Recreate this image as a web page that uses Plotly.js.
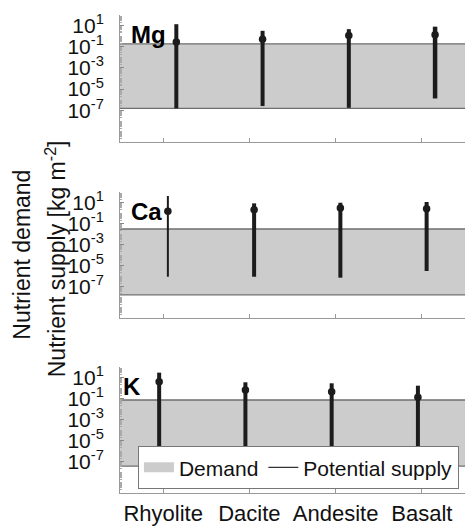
<!DOCTYPE html>
<html><head><meta charset="utf-8">
<script src="https://cdn.plot.ly/plotly-3.0.1.min.js"></script>
<style>html,body{margin:0;padding:0;background:#fff}#chart{width:465px;height:527px}</style>
</head><body><div id="chart"></div>
<script>
// ---- data ----
const categories = ['Rhyolite', 'Dacite', 'Andesite', 'Basalt'];
const elements = ['Mg', 'Ca', 'K'];
// demand band [kg m^-2]
const demandLow  = [1.5e-7, 1.6e-8, 3.7e-8];
const demandHigh = [0.19, 0.03, 0.072];
// potential supply: low / central / high per rock type
const supplyLowMg  = [1.5e-7, 2.5e-7, 1.7e-7, 1.3e-6];
const supplyMidMg  = [0.28, 0.52, 1.15, 1.35];
const supplyHighMg = [13.5, 3.2, 4.6, 7.9];
const supplyLowCa  = [8.5e-7, 8.5e-7, 6.9e-7, 3.0e-6];
const supplyMidCa  = [1.45, 2.0, 3.0, 2.6];
const supplyHighCa = [42, 8.3, 9.5, 11.2];
const supplyLowK   = [2.6e-6, 1e-8, 1e-8, 1e-8];
const supplyMidK   = [4.0, 0.65, 0.45, 0.13];
const supplyHighK  = [29, 3.5, 2.8, 1.66];
const yTickPowers = [1, -1, -3, -5, -7];

// ---- styling ----
const FONT = '"Liberation Sans", Arial, sans-serif';
const offsets = [0.153, 0.055, -0.046];
const widths = [[4, 4, 4, 4.5], [2, 4, 4, 4], [4, 4, 4, 4]];
const lows = [supplyLowMg, supplyLowCa, supplyLowK];
const mids = [supplyMidMg, supplyMidCa, supplyMidK];
const highs = [supplyHighMg, supplyHighCa, supplyHighK];
const domains = [[0.7343, 1], [0.3661, 0.6297], [0, 0.2636]];
const xr = [-0.5, categories.length - 0.5];

const traces = [];
const layout = {
  width: 465, height: 527,
  margin: {l: 120, r: 0, t: 15, b: 34},
  paper_bgcolor: '#fff', plot_bgcolor: '#fff',
  font: {family: FONT, size: 20, color: '#111'},
  showlegend: true,
  legend: {orientation: 'h', x: 0.052, xanchor: 'left', y: 0.098, yanchor: 'top',
           bgcolor: '#fff', bordercolor: '#777', borderwidth: 1, itemwidth: 30,
           font: {family: FONT, size: 21, color: '#111'}, traceorder: 'normal'},
  annotations: [],
};

// minor tick positions for log axis
const minorVals = [];
for (let p = -10; p <= 1; p++) for (let d = 2; d <= 9; d++) minorVals.push(d * Math.pow(10, p));

// legend-only entries
traces.push({type: 'scatter', mode: 'lines', x: [null], y: [null], name: 'Demand',
  line: {width: 15, color: '#cccccc'}, showlegend: true});
traces.push({type: 'scatter', mode: 'lines', x: [null], y: [null], name: 'Potential supply',
  line: {width: 1, color: '#000'}, showlegend: true});

elements.forEach((el, k) => {
  const s = k === 0 ? '' : String(k + 1);
  const xa = 'x' + s, ya = 'y' + s;
  // demand band
  traces.push({type: 'scatter', mode: 'lines', xaxis: xa, yaxis: ya,
    x: [xr[0], xr[1], xr[1], xr[0], xr[0]],
    y: [demandLow[k], demandLow[k], demandHigh[k], demandHigh[k], demandLow[k]],
    fill: 'toself', fillcolor: '#cccccc', line: {width: 0, color: '#cccccc'},
    showlegend: false, hoverinfo: 'skip'});
  traces.push({type: 'scatter', mode: 'lines', xaxis: xa, yaxis: ya,
    x: [xr[0], xr[1], null, xr[0], xr[1]],
    y: [demandLow[k], demandLow[k], null, demandHigh[k], demandHigh[k]],
    line: {width: 1.3, color: '#6e6e6e'}, showlegend: false, hoverinfo: 'skip'});
  categories.forEach((c, i) => {
    const xv = i + offsets[k];
    traces.push({type: 'scatter', mode: 'lines', xaxis: xa, yaxis: ya,
      x: [xv, xv], y: [lows[k][i], highs[k][i]],
      line: {width: widths[k][i], color: '#1c1c1c'}, showlegend: false});
    traces.push({type: 'scatter', mode: 'markers', xaxis: xa, yaxis: ya,
      x: [xv], y: [mids[k][i]], marker: {size: 7.5, color: '#1c1c1c'}, showlegend: false});
  });
  layout['xaxis' + s] = {
    domain: [0, 1], range: xr, anchor: ya,
    tickmode: 'array', tickvals: categories.map((c, i) => i), ticktext: categories,
    showticklabels: k === 2,
    ticks: 'inside', ticklen: 4, tickcolor: '#999', tickwidth: 1,
    showline: true, linecolor: '#999', linewidth: 1, showgrid: false, zeroline: false,
    tickfont: {family: FONT, size: 22, color: '#111'}, ticklabelstandoff: 1,
  };
  layout['yaxis' + s] = {
    domain: domains[k], type: 'log', range: [-10, 2], anchor: xa,
    tickmode: 'array',
    tickvals: yTickPowers.map(p => Math.pow(10, p)),
    ticktext: yTickPowers.map(p => '10<sup>' + p + '</sup>'),
    ticks: 'inside', ticklen: 4, tickcolor: '#888', tickwidth: 1,
    minor: {tickmode: 'array', tickvals: minorVals, ticks: 'inside', ticklen: 2, tickcolor: '#aaa', tickwidth: 1},
    showline: true, linecolor: '#999', linewidth: 1, showgrid: false, zeroline: false,
    tickfont: {family: FONT, size: 21, color: '#111'}, ticklabelstandoff: 11,
  };
  layout.annotations.push({xref: xa + ' domain', yref: ya + ' domain', x: k === 2 ? 0.003 : 0.027, y: 0.843,
    xanchor: 'left', yanchor: 'middle', showarrow: false, text: '<b>' + el + '</b>',
    font: {family: FONT, size: 24, color: '#000'}});
});

layout.annotations.push({xref: 'paper', yref: 'paper', x: -0.285, y: 0.498, textangle: -90,
  xanchor: 'center', yanchor: 'middle',
  showarrow: false, text: 'Nutrient demand', font: {family: FONT, size: 23, color: '#111'}});
layout.annotations.push({xref: 'paper', yref: 'paper', x: -0.187, y: 0.49, textangle: -90,
  xanchor: 'center', yanchor: 'middle',
  showarrow: false, text: 'Nutrient supply [kg m<sup>-2</sup>]', font: {family: FONT, size: 23, color: '#111'}});

Plotly.newPlot('chart', traces, layout, {staticPlot: true, displayModeBar: false});
</script></body></html>
